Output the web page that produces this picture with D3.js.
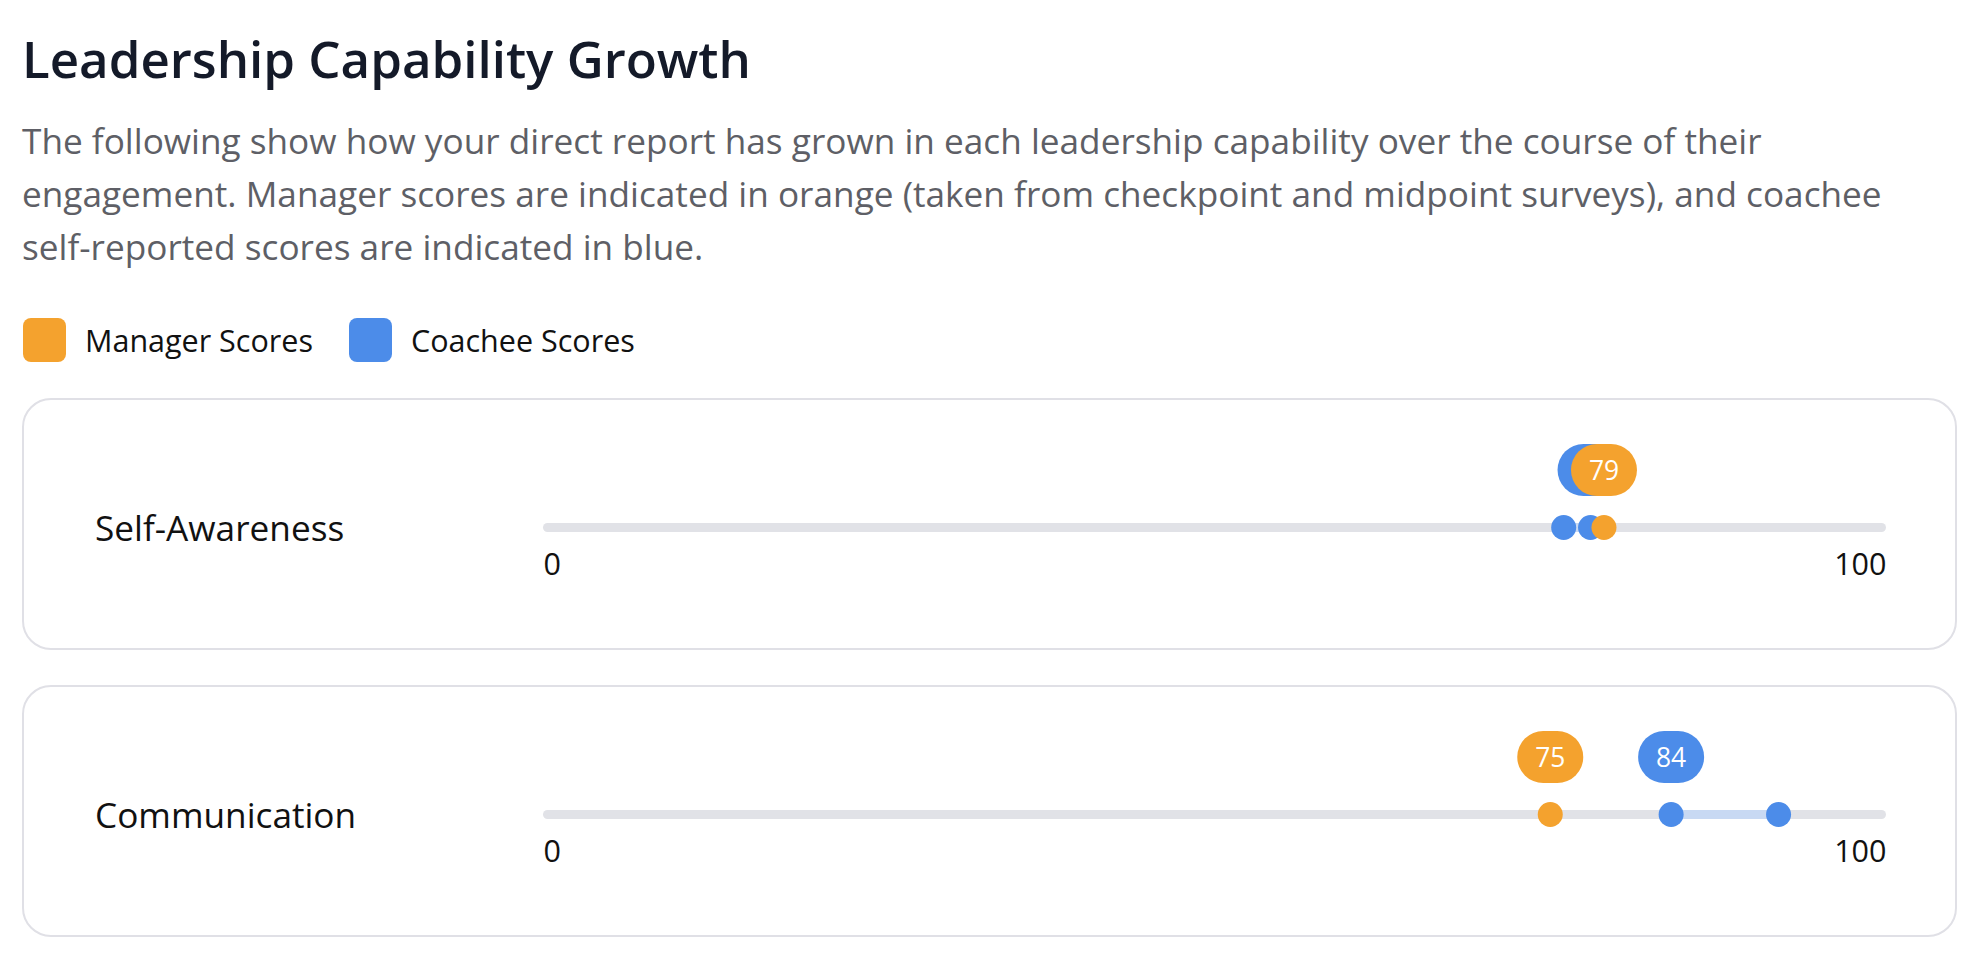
<!DOCTYPE html>
<html>
<head>
<meta charset="utf-8">
<script src="https://cdn.jsdelivr.net/npm/d3@7/dist/d3.min.js"></script>
<style>
  html, body { margin: 0; padding: 0; background: #ffffff; }
  svg { display: block; font-family: "Open Sans", "Noto Sans", sans-serif; }
</style>
</head>
<body>
<svg id="chart" width="1978" height="956"></svg>
<script>
// data
const capabilities = ["Self-Awareness", "Communication"];
const managerScores = [[79], [75]];          // manager checkpoint / midpoint
const coacheeScores = [[76, 78], [92, 84]];  // coachee first -> latest
const tickValues = [0, 100];
const legendItems = ["Manager Scores", "Coachee Scores"];

const title = "Leadership Capability Growth";
const introLines = [
    "The following show how your direct report has grown in each leadership capability over the course of their",
    "engagement. Manager scores are indicated in orange (taken from checkpoint and midpoint surveys), and coachee",
    "self-reported scores are indicated in blue."
];

const orange = "#f4a22e";
const blue = "#4c8ce9";
const paleBlue = "#c8d9f3";
const trackColor = "#e1e2e7";

const svg = d3.select("#chart");

// heading
svg.append("text")
    .attr("x", 22)
    .attr("y", 78)
    .style("font-size", "51px")
    .style("font-weight", 600)
    .style("fill", "#141a29")
    .text(title);

svg.append("g")
    .selectAll("text")
    .data(introLines)
    .join("text")
        .attr("x", 22)
        .attr("y", (d, i) => 154 + i * 53)
        .style("font-size", "35.2px")
        .style("fill", "#5e5f66")
        .text(d => d);

// legend
const legendColor = d3.scaleOrdinal().domain(legendItems).range([orange, blue]);
const legendX = d3.scaleOrdinal().domain(legendItems).range([23, 349]);

const legend = svg.append("g")
    .selectAll("g")
    .data(legendItems)
    .join("g")
        .attr("transform", d => `translate(${legendX(d)},318)`);

legend.append("rect")
    .attr("width", 43)
    .attr("height", 44)
    .attr("rx", 8)
    .style("fill", d => legendColor(d));

legend.append("text")
    .attr("x", 62)
    .attr("y", 33.5)
    .style("font-size", "30.5px")
    .style("fill", "#111111")
    .text(d => d);

// one card per capability
const rowY = d3.scaleBand()
    .domain(capabilities)
    .range([399, 399 + 287 * 2])
    .paddingInner(0)
    .paddingOuter(0);

const x = d3.scaleLinear()
    .domain([0, 100])
    .range([543, 1886]);

const cards = svg.append("g")
    .selectAll("g")
    .data(capabilities.map((name, i) => ({
        name: name,
        manager: managerScores[i],
        coachee: coacheeScores[i]
    })))
    .join("g")
        .attr("transform", d => `translate(0,${rowY(d.name)})`);

const cardH = 250;
const trackY = 128.5;
const trackH = 9;

cards.append("rect")
    .attr("x", 23)
    .attr("y", 0)
    .attr("width", 1933)
    .attr("height", cardH)
    .attr("rx", 28)
    .style("fill", "#ffffff")
    .style("stroke", "#e0e0e6")
    .style("stroke-width", 2);

cards.append("text")
    .attr("x", 95)
    .attr("y", trackY + 13.5)
    .style("font-size", "35.2px")
    .style("fill", "#111111")
    .text(d => d.name);

cards.append("rect")
    .attr("x", x(0))
    .attr("y", trackY - trackH / 2)
    .attr("width", x(100) - x(0))
    .attr("height", trackH)
    .attr("rx", trackH / 2)
    .style("fill", trackColor);

// range covered by the coachee scores
cards.append("rect")
    .attr("x", d => x(d3.min(d.coachee)))
    .attr("y", trackY - trackH / 2)
    .attr("width", d => x(d3.max(d.coachee)) - x(d3.min(d.coachee)))
    .attr("height", trackH)
    .style("fill", paleBlue);

// axis end labels
cards.append("g")
    .attr("transform", `translate(0,${trackY + 47})`)
    .call(d3.axisBottom(x).tickValues(tickValues).tickSize(0).tickPadding(0))
    .call(g => g.select(".domain").remove())
    .call(g => g.selectAll("text")
        .attr("dy", 0)
        .attr("y", 0)
        .style("font-family", "\"Open Sans\", \"Noto Sans\", sans-serif")
        .style("font-size", "30.5px")
        .style("fill", "#111111")
        .attr("text-anchor", d => d === 0 ? "start" : "end"));

// dots
cards.selectAll("circle.coachee")
    .data(d => d.coachee)
    .join("circle")
        .attr("class", "coachee")
        .attr("cx", d => x(d))
        .attr("cy", trackY)
        .attr("r", 12.5)
        .style("fill", blue);

cards.selectAll("circle.manager")
    .data(d => d.manager)
    .join("circle")
        .attr("class", "manager")
        .attr("cx", d => x(d))
        .attr("cy", trackY)
        .attr("r", 12.5)
        .style("fill", orange);

// bubbles with the latest score, coachee drawn first so manager sits on top
const bubbleW = 66;
const bubbleH = 52;

function addBubble(key, color) {
    const b = cards.append("g")
        .attr("transform", d => {
            const v = d[key][d[key].length - 1];
            return `translate(${x(v)},${trackY - 57.5})`;
        });

    b.append("rect")
        .attr("x", -bubbleW / 2)
        .attr("y", -bubbleH / 2)
        .attr("width", bubbleW)
        .attr("height", bubbleH)
        .attr("rx", bubbleH / 2)
        .style("fill", color);

    b.append("text")
        .attr("y", 9.5)
        .attr("text-anchor", "middle")
        .style("font-size", "26.4px")
        .style("fill", "#ffffff")
        .text(d => d[key][d[key].length - 1]);
}

addBubble("coachee", blue);
addBubble("manager", orange);
</script>
</body>
</html>
